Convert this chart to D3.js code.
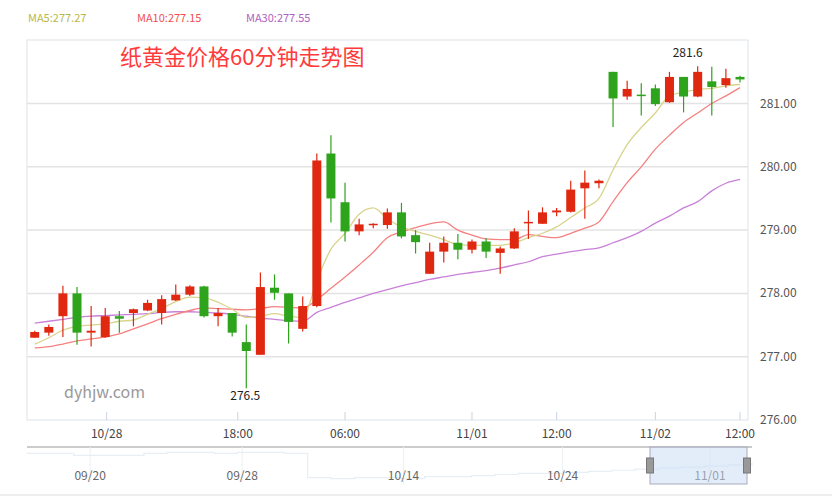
<!DOCTYPE html>
<html><head><meta charset="utf-8">
<script src="https://cdn.jsdelivr.net/npm/d3@7"></script>
<style>body{margin:0;background:#fff;font-family:"Microsoft YaHei","Noto Sans CJK SC",Arial,sans-serif}</style>
</head><body><svg id="c" width="832" height="500"></svg>
<script>
const opens  = [277.30,277.38,277.64,278.00,277.38,277.31,277.64,277.69,277.73,277.69,277.89,277.98,278.11,277.64,277.69,277.23,277.03,278.09,278.00,277.44,277.80,280.21,279.44,278.98,279.08,279.08,279.28,278.92,278.31,278.66,278.80,278.69,278.82,278.64,278.71,279.11,279.10,279.28,279.29,279.66,279.74,281.50,281.11,281.14,281.24,281.02,281.42,281.11,281.35,281.29,281.42];
const closes = [277.39,277.47,278.00,277.38,277.41,277.64,277.60,277.75,277.85,277.91,277.98,278.11,277.64,277.69,277.38,277.09,278.10,278.01,277.55,277.80,280.10,279.50,278.98,279.09,279.10,279.28,278.90,278.81,278.66,278.80,278.69,278.82,278.66,278.71,278.98,279.13,279.28,279.31,279.64,279.75,279.78,281.08,281.23,281.12,280.99,281.42,281.11,281.50,281.26,281.40,281.38];
const highs  = [277.41,277.51,278.12,278.10,277.80,277.77,277.72,277.76,277.90,277.97,278.14,278.13,278.12,277.77,277.69,277.51,278.33,278.30,278.00,277.95,280.21,280.50,279.75,279.18,279.11,279.34,279.43,279.00,278.80,278.90,278.94,278.85,278.87,278.74,279.03,279.31,279.36,279.35,279.78,279.94,279.80,281.50,281.36,281.32,281.30,281.50,281.42,281.59,281.58,281.55,281.44];
const lows   = [277.30,277.33,277.31,277.19,277.16,277.30,277.38,277.48,277.72,277.51,277.88,277.96,277.62,277.48,277.32,276.50,277.03,277.90,277.21,277.40,277.78,279.12,278.82,278.92,279.03,279.02,278.87,278.63,278.31,278.49,278.54,278.63,278.56,278.31,278.70,278.86,279.10,279.22,279.28,279.18,279.66,280.63,281.06,280.81,280.96,281.01,280.86,281.10,280.81,281.25,281.33];
const ma5  = [277.20,277.30,277.42,277.48,277.50,277.52,277.56,277.58,277.67,277.76,277.87,277.94,277.93,277.86,277.75,277.62,277.64,277.68,277.64,277.62,278.20,278.70,278.95,279.25,279.35,279.18,279.05,278.98,278.92,278.85,278.77,278.76,278.76,278.76,278.80,278.88,278.95,279.05,279.20,279.35,279.50,279.95,280.35,280.62,280.85,281.12,281.18,281.22,281.24,281.28,281.30];
const ma10 = [277.14,277.16,277.20,277.25,277.28,277.31,277.36,277.44,277.52,277.60,277.67,277.73,277.77,277.76,277.75,277.74,277.76,277.79,277.78,277.77,277.90,278.08,278.26,278.45,278.65,278.88,278.97,279.04,279.10,279.13,279.00,278.92,278.86,278.85,278.85,278.93,278.90,278.88,278.95,279.03,279.13,279.45,279.75,280.00,280.28,280.50,280.70,280.85,281.00,281.12,281.25];
const ma30 = [277.53,277.56,277.59,277.62,277.64,277.65,277.66,277.67,277.68,277.70,277.71,277.71,277.70,277.69,277.67,277.64,277.61,277.59,277.57,277.56,277.70,277.78,277.86,277.93,278.00,278.06,278.12,278.17,278.22,278.26,278.30,278.33,278.36,278.40,278.45,278.50,278.58,278.62,278.66,278.69,278.72,278.80,278.88,278.98,279.11,279.22,279.35,279.45,279.62,279.74,279.80];
const xTickLabels = ["10/28","18:00","06:00","11/01","12:00","11/02","12:00"];
const xTickIdx    = [5.1,14.4,22,31,37,44,50];
const yTicks = [276,277,278,279,280,281];
const navValues = [276.9,276.9,276.7,276.7,276.7,276.9,277.0,277.0,276.9,277.0,277.0,276.9,274.6,274.5,274.6,274.6,274.5,274.7,274.7,274.8,274.9,275.0,275.0,275.1,275.2,275.3,275.4,275.5,275.6,275.7,275.8,276.0];
const navTicks = ["09/20","09/28","10/14","10/24","11/01"];
const navTickIdx = [2.7,9.2,16.1,22.9,29.2];

const svg = d3.select("#c");
const L=27,R=748,T=40,B=420;
const x = d3.scaleLinear().domain([0,50]).range([34.7,740]);
const y = d3.scaleLinear().domain([276,282]).range([B,B-6*63.3]);

svg.append("rect").attr("x",L).attr("y",T).attr("width",R-L).attr("height",B-T).attr("fill","none").attr("stroke","#dde3ea");
svg.selectAll(".g").data(yTicks.slice(1)).join("line").attr("x1",L).attr("x2",R)
  .attr("y1",d=>y(d)).attr("y2",d=>y(d)).attr("stroke","#e3e3e3").attr("stroke-width",1.5);
svg.selectAll(".yl").data(yTicks).join("text").attr("x",760).attr("y",d=>y(d)+4)
  .attr("font-size",12).attr("fill","#555").text(d=>d.toFixed(2));
svg.selectAll(".xt").data(xTickIdx).join("line").attr("x1",d=>x(d)).attr("x2",d=>x(d))
  .attr("y1",B-8).attr("y2",B).attr("stroke","#c8d4e4");
svg.selectAll(".xl").data(xTickLabels).join("text").attr("x",(d,i)=>x(xTickIdx[i])).attr("y",438)
  .attr("text-anchor","middle").attr("font-size",12).attr("fill","#444").text(d=>d);

svg.append("text").attr("x",120).attr("y",65).attr("font-size",22).attr("fill","#ff3a3a").text("纸黄金价格60分钟走势图");
[["MA5:277.27","#b8b84a",28],["MA10:277.15","#f05050",137],["MA30:277.55","#b060c0",246]].forEach(d=>{
  svg.append("text").attr("x",d[2]).attr("y",22).attr("font-size",11).attr("fill",d[1]).text(d[0]);
});
svg.append("text").attr("x",64).attr("y",398).attr("font-size",16).attr("fill","#999").text("dyhjw.com");

const line = d3.line().x((d,i)=>x(i)).y(d=>y(d)).curve(d3.curveMonotoneX);
[[ma30,"#c880d8"],[ma10,"#f58080"],[ma5,"#d8d48c"]].forEach(m=>{
  svg.append("path").attr("d",line(m[0])).attr("fill","none").attr("stroke",m[1]).attr("stroke-width",1.3);
});

const idx = d3.range(opens.length);
const col = i => closes[i]>=opens[i] ? "#e02810" : "#2ea31c";
svg.selectAll(".w").data(idx).join("line").attr("x1",i=>x(i)).attr("x2",i=>x(i))
  .attr("y1",i=>y(highs[i])).attr("y2",i=>y(lows[i])).attr("stroke",col).attr("stroke-width",1.2);
svg.selectAll(".b").data(idx).join("rect").attr("x",i=>x(i)-4.5).attr("width",9)
  .attr("y",i=>y(Math.max(opens[i],closes[i])))
  .attr("height",i=>Math.max(1.5,Math.abs(y(opens[i])-y(closes[i])))).attr("fill",col);

const iMax = d3.maxIndex(highs), iMin = d3.minIndex(lows);
svg.append("text").attr("x",x(iMax)-10).attr("y",y(highs[iMax])-9).attr("text-anchor","middle").attr("font-size",12).attr("fill","#222").text(highs[iMax].toFixed(1));
svg.append("text").attr("x",x(iMin)-1).attr("y",y(lows[iMin])+12).attr("text-anchor","middle").attr("font-size",12).attr("fill","#222").text(lows[iMin].toFixed(1));

const NT=447,NB=484,NL=27,NR=752;
const nx = d3.scaleLinear().domain([0,navValues.length-1]).range([NL,NR]);
const ny = d3.scaleLinear().domain([274,277.5]).range([NB,NT]);
svg.append("line").attr("x1",NL).attr("x2",NR).attr("y1",NT).attr("y2",NT).attr("stroke","#ccc").attr("stroke-width",2);
svg.selectAll(".ng").data(navTickIdx).join("line").attr("x1",d=>nx(d)).attr("x2",d=>nx(d)).attr("y1",NT).attr("y2",NB).attr("stroke","#eef0f3");
svg.append("path").attr("d",d3.line().x((d,i)=>nx(i)).y(d=>ny(d)).curve(d3.curveStepAfter)(navValues)).attr("fill","none").attr("stroke","#e8eef6").attr("stroke-width",1.2);
svg.selectAll(".nl").data(navTicks).join("text").attr("x",(d,i)=>nx(navTickIdx[i])).attr("y",480)
  .attr("text-anchor","middle").attr("font-size",12).attr("fill","#666").text(d=>d);
svg.append("rect").attr("x",650).attr("y",NT).attr("width",97).attr("height",NB-NT).attr("fill","rgba(200,220,245,0.5)").attr("stroke","#aab");
[650,747].forEach(hx=>svg.append("rect").attr("x",hx-3.5).attr("y",458).attr("width",7).attr("height",15).attr("fill","#999").attr("stroke","#777"));
svg.append("line").attr("x1",0).attr("x2",832).attr("y1",495).attr("y2",495).attr("stroke","#eee").attr("stroke-width",2);
</script></body></html>
